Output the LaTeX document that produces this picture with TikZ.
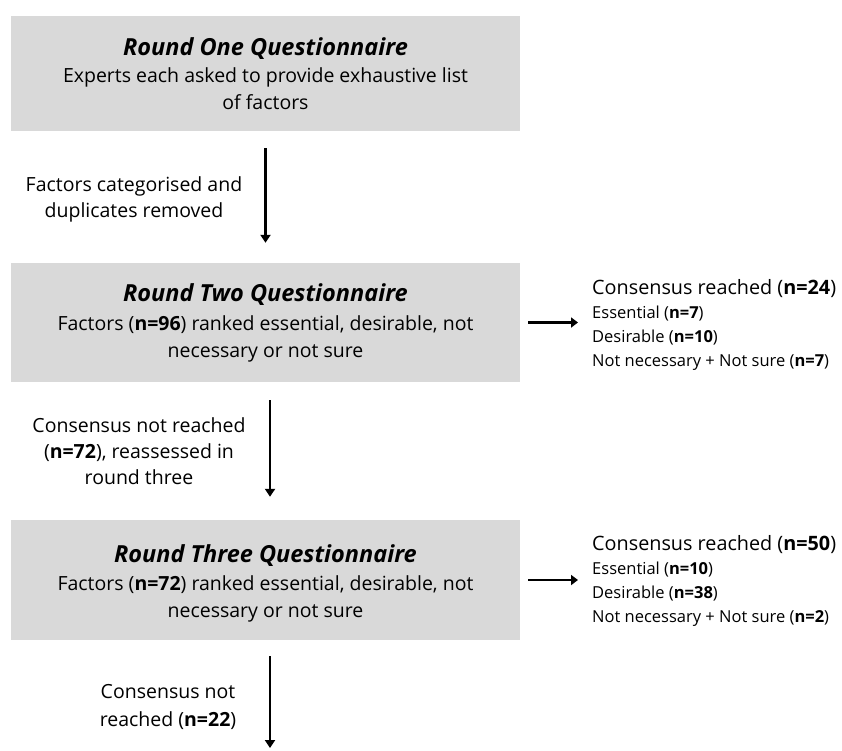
\documentclass[tikz,border=0pt]{standalone}
\usepackage{fontspec}
\setmainfont{Open Sans}
\usetikzlibrary{arrows.meta}
\begin{document}
\begin{tikzpicture}[x=1pt,y=-1pt,
  qbox/.style={fill=boxgray, draw=none, minimum width=509pt, inner sep=0pt,
     align=center, font=\fontsize{19.5}{27}\selectfont},
  flow/.style={line width=2.4pt, -{Triangle[width=10pt,length=8pt]}},
  side/.style={line width=2.6pt, -{Triangle[width=10pt,length=7pt]}},
  lbl/.style={align=center, font=\fontsize{19.5}{26}\selectfont, inner sep=0pt},
  res/.style={align=left, anchor=west, inner sep=0pt, font=\fontsize{16.5}{24}\selectfont}]
\definecolor{boxgray}{HTML}{D9D9D9}
\useasboundingbox (0,0) rectangle (842,750);
\newcommand{\qttl}[1]{{\fontsize{23.5}{27}\selectfont\bfseries\itshape #1}}
\newcommand{\qbig}[1]{{\fontsize{19.8}{24}\selectfont #1}}

\node[qbox, minimum height=115pt] (b1) at (265.5,73.5) {\qttl{Round One Questionnaire}\\Experts each asked to provide exhaustive list\\of factors};
\node[qbox, minimum height=119pt] (b2) at (265.5,322.5) {\qttl{Round Two Questionnaire}\\[2pt]Factors (\textbf{n=96}) ranked essential, desirable, not\\necessary or not sure};
\node[qbox, minimum height=120pt] (b3) at (265.5,580) {\rule{0pt}{24pt}\qttl{Round Three Questionnaire}\\[1pt]Factors (\textbf{n=72}) ranked essential, desirable, not\\necessary or not sure};

\coordinate (end) at (270,748);

\draw[flow] ([yshift=-17]b1.south) -- ([yshift=20]b2.north);
\draw[flow] ([xshift=4.5, yshift=-18]b2.south) -- ([xshift=4.5, yshift=23]b3.north);
\draw[flow] ([xshift=4.5, yshift=-16]b3.south) -- (end);

\node[lbl] (l1) at (134,199) {Factors categorised and\\duplicates removed};
\node[lbl] (l2) at (139,451) {Consensus not reached\\(\textbf{n=72}), reassessed in\\round three};
\node[lbl, font=\fontsize{19.5}{28}\selectfont] (l3) at (168,707) {Consensus not\\reached (\textbf{n=22})};

\node[res] (r2) at (592,325) {\qbig{Consensus reached (\textbf{n=24})}\\Essential (\textbf{n=7})\\Desirable (\textbf{n=10})\\Not necessary + Not sure (\textbf{n=7})};
\node[res] (r3) at (592,581) {\qbig{Consensus reached (\textbf{n=50})}\\Essential (\textbf{n=10})\\Desirable (\textbf{n=38})\\Not necessary + Not sure (\textbf{n=2})};

\draw[side] ([xshift=8]b2.east) -- ([xshift=-14]r2.west |- b2.east);
\draw[side] ([xshift=8]b3.east) -- ([xshift=-14]r3.west |- b3.east);
\end{tikzpicture}
\end{document}
